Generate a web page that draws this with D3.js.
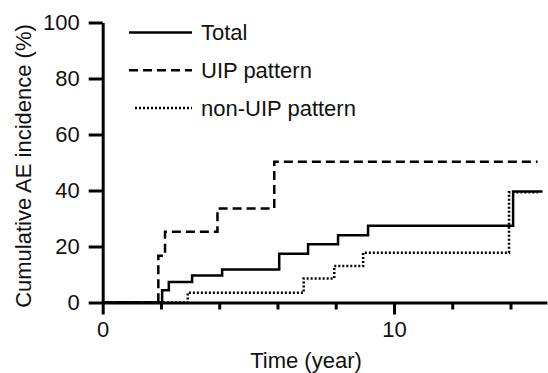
<!DOCTYPE html>
<html>
<head>
<meta charset="utf-8">
<script src="https://cdn.jsdelivr.net/npm/d3@7"></script>
<style>
  body { margin: 0; background: #fff; }
  svg { display: block; font-family: "Liberation Sans", Arial, sans-serif; }
</style>
</head>
<body>
<svg id="chart" width="548" height="373"></svg>
<script>
"use strict";

// step curves (time in years, cumulative incidence in %)
var totalTimes  = [0, 2.04, 2.27, 3.07, 4.10, 6.06, 7.05, 8.08, 9.11, 14.09, 15.10];
var totalValues = [0, 4.4, 7.3, 9.6, 11.8, 17.4, 20.8, 24.0, 27.4, 39.6, 39.6];

var uipTimes  = [0, 1.91, 2.14, 3.94, 5.89, 14.93];
var uipValues = [0, 16.7, 25.3, 33.6, 50.3, 50.3];

var nonUipTimes  = [0, 2.92, 6.90, 7.95, 8.94, 13.95, 14.94];
var nonUipValues = [0, 3.5, 8.6, 13.0, 17.8, 39.4, 39.4];

var seriesNames = ['Total', 'UIP pattern', 'non-UIP pattern'];
var yTicks = [0, 20, 40, 60, 80, 100];
var xMajorTicks = [0, 10];
var xMinorTicks = [2, 4, 6, 8, 12, 14];

var svg = d3.select('#chart');

var x = d3.scaleLinear().domain([0, 15.25]).range([102.7, 546.9]);
var y = d3.scaleLinear().domain([0, 100]).range([302.5, 22.5]);

var dashes = ['none', '9,5', '2,2'];
var fontSize = '22px';

function zip(ts, vs) {
    return ts.map(function(t, i) { return { t: t, v: vs[i] }; });
}

var series = [
    zip(totalTimes, totalValues),
    zip(uipTimes, uipValues),
    zip(nonUipTimes, nonUipValues)
];

var line = d3.line()
    .x(function(d) { return x(d.t); })
    .y(function(d) { return y(d.v); })
    .curve(d3.curveStepAfter);

// curves (drawn under the axes)
svg.append('g').selectAll('path')
    .data(series)
    .enter().append('path')
        .attr('d', line)
        .attr('fill', 'none')
        .attr('stroke', '#000')
        .attr('stroke-width', 2.5)
        .attr('stroke-dasharray', function(d, i) { return dashes[i]; });

// y axis
svg.append('g')
    .attr('transform', 'translate(' + x(0) + ',0)')
    .call(d3.axisLeft(y).tickValues(yTicks).tickSize(14).tickSizeOuter(0).tickPadding(9));

// x axis, major ticks with labels
svg.append('g')
    .attr('transform', 'translate(0,' + y(0) + ')')
    .call(d3.axisBottom(x).tickValues(xMajorTicks).tickSize(12).tickSizeOuter(0).tickPadding(7));

// x axis minor ticks
svg.append('g')
    .attr('transform', 'translate(0,' + y(0) + ')')
    .call(d3.axisBottom(x).tickValues(xMinorTicks).tickSize(7).tickSizeOuter(0).tickFormat(''))
    .select('.domain').remove();

svg.selectAll('.domain').attr('stroke', '#000').attr('stroke-width', 3);
svg.selectAll('.tick line').attr('stroke', '#000').attr('stroke-width', 3);
svg.selectAll('.tick text')
    .attr('fill', '#111')
    .style('font-size', fontSize)
    .style('font-family', '"Liberation Sans", Arial, sans-serif');

// axis titles
svg.append('text')
    .attr('x', 306)
    .attr('y', 368)
    .attr('text-anchor', 'middle')
    .attr('fill', '#111')
    .style('font-size', fontSize)
    .text('Time (year)');

svg.append('text')
    .attr('transform', 'translate(31,166) rotate(-90)')
    .attr('text-anchor', 'middle')
    .attr('fill', '#111')
    .style('font-size', fontSize)
    .text('Cumulative AE incidence (%)');

// legend
var legend = svg.append('g').selectAll('g')
    .data(seriesNames)
    .enter().append('g')
        .attr('transform', function(d, i) { return 'translate(0,' + (32.5 + i * 37.8) + ')'; });

legend.append('line')
    .attr('x1', function(d, i) { return i === 2 ? 135 : 129; })
    .attr('x2', 192)
    .attr('stroke', '#000')
    .attr('stroke-width', 2.5)
    .attr('stroke-dasharray', function(d, i) { return dashes[i]; });

legend.append('text')
    .attr('x', 201)
    .attr('y', 7.5)
    .attr('fill', '#111')
    .style('font-size', fontSize)
    .text(function(d) { return d; });
</script>
</body>
</html>
